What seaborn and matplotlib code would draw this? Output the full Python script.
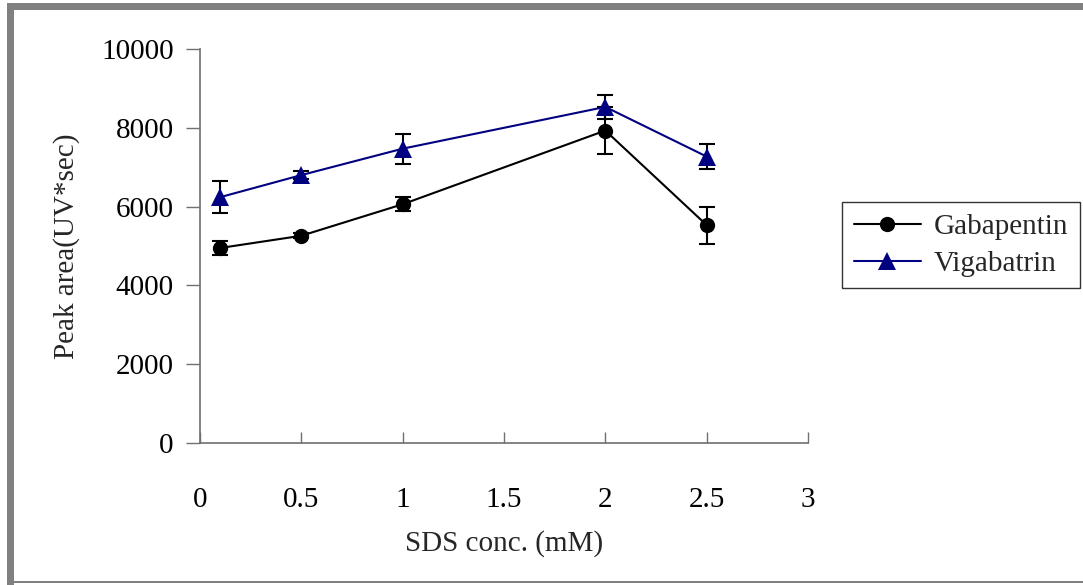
import matplotlib
matplotlib.use("Agg")
import matplotlib.pyplot as plt
from matplotlib.patches import Rectangle
import seaborn as sns
import pandas as pd

sds_conc = [0.1, 0.5, 1.0, 2.0, 2.5]
gabapentin = [4950, 5260, 6060, 7930, 5530]
gabapentin_err = [170, 60, 180, 600, 470]
vigabatrin = [6240, 6800, 7470, 8530, 7270]
vigabatrin_err = [410, 110, 380, 300, 310]
series_names = ["Gabapentin", "Vigabatrin"]
x_ticks = [0, 0.5, 1, 1.5, 2, 2.5, 3]
y_ticks = [0, 2000, 4000, 6000, 8000, 10000]

df = pd.DataFrame({
    "x": sds_conc * 2,
    "y": gabapentin + vigabatrin,
    "err": gabapentin_err + vigabatrin_err,
    "series": [series_names[0]] * len(sds_conc) + [series_names[1]] * len(sds_conc),
})

sns.set_style("white")
plt.rcParams["font.family"] = ["Liberation Serif", "DejaVu Serif"]

colors = {"Gabapentin": "black", "Vigabatrin": "#000080"}
markers = {"Gabapentin": "o", "Vigabatrin": "^"}

fig = plt.figure(figsize=(10.83, 5.85), dpi=100)
ax = fig.add_axes([200 / 1083, 1 - 443 / 585, 608 / 1083, 394 / 585])

for name, g in df.groupby("series"):
    ax.errorbar(g["x"], g["y"], yerr=g["err"], fmt="none", ecolor="black",
                elinewidth=1.5, capsize=6, capthick=1.5, zorder=2)

n_before = len(ax.lines)
sns.lineplot(data=df, x="x", y="y", hue="series", style="series",
             palette=colors, markers=markers, dashes=False, ax=ax,
             markersize=11, linewidth=1.5,
             hue_order=series_names, style_order=series_names, zorder=3)
for line in ax.lines[n_before:]:
    line.set_markeredgewidth(0)
    if line.get_marker() == "^":
        line.set_markersize(13)

ax.set_xlim(0, 3)
ax.set_ylim(0, 10000)
ax.set_xticks(x_ticks)
ax.set_xticklabels([f"{t:g}" for t in x_ticks])
ax.set_yticks(y_ticks)
ax.set_yticklabels([str(t) for t in y_ticks])

for s in ["top", "right"]:
    ax.spines[s].set_visible(False)
for s in ["left", "bottom"]:
    ax.spines[s].set_color("#707070")
    ax.spines[s].set_linewidth(1.2)

ax.tick_params(axis="x", bottom=True, direction="in", length=8, width=1,
               color="#707070", pad=32, labelsize=21, labelcolor="black")
ax.tick_params(axis="y", left=True, direction="out", length=10, width=1,
               color="#707070", pad=9, labelsize=21, labelcolor="black")
ax.set_xlabel("SDS conc. (mM)", fontsize=21, labelpad=12)
ax.set_ylabel("Peak area(UV*sec)", fontsize=21, labelpad=15)

handles, labels = ax.get_legend_handles_labels()
for h in handles:
    h.set_markeredgewidth(0)
ax.get_legend().remove()
leg = fig.legend(handles, labels, loc="upper left",
                 bbox_to_anchor=(842 / 1083, 1 - 202 / 585), fontsize=21,
                 frameon=True, fancybox=False, edgecolor="black",
                 handlelength=2.3, handletextpad=0.45, borderpad=0.4,
                 borderaxespad=0, labelspacing=0.35)
leg.get_frame().set_linewidth(1.0)

# figure border
gray = "#808080"
fig.add_artist(Rectangle((7 / 1083, 1 - 10 / 585), 1, 7 / 585,
                         transform=fig.transFigure, color=gray, lw=0))
fig.add_artist(Rectangle((7 / 1083, 0), 7 / 1083, 1 - 3 / 585,
                         transform=fig.transFigure, color=gray, lw=0))
fig.add_artist(Rectangle((7 / 1083, 1 - 583 / 585), 1, 2 / 585,
                         transform=fig.transFigure, color=gray, lw=0))

fig.savefig("out.png", dpi=100)
